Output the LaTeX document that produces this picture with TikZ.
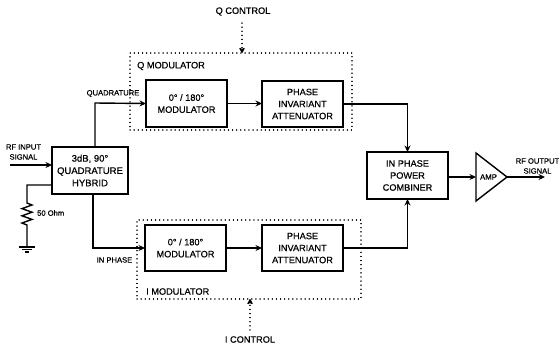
\documentclass[tikz,border=0pt]{standalone}
\usepackage{fontspec}
\setmainfont[FakeBold=0.6]{Liberation Sans}
\usetikzlibrary{arrows.meta,calc}
\tikzset{
  blockbox/.style={draw=black,line width=1.5pt,inner sep=0pt,outer sep=0pt,align=center,font=\fontsize{9.2}{12}\selectfont},
  modbox/.style={draw=black,line width=1.3pt,line cap=round,dash pattern=on 0.1pt off 4pt,inner sep=0pt,outer sep=0pt},
  wire/.style={line width=1.4pt,black},
  flow/.style={wire,-{Stealth[length=6.5pt,width=6pt]}},
  ctrl/.style={line width=1.3pt,line cap=round,dash pattern=on 0.1pt off 4pt,-{Stealth[length=7pt,width=7pt,round]}},
  biglabel/.style={inner sep=0pt,font=\fontsize{9.2}{11}\selectfont},
  smalllabel/.style={inner sep=0pt,align=center,font=\fontsize{7.6}{10}\selectfont},
}
\begin{document}
\begin{tikzpicture}[x=1pt,y=-1pt]
\useasboundingbox[fill=white] (0,0) rectangle (559,349);
% dotted modulator frames
\node[modbox,minimum width=222pt,minimum height=77pt] (qframe) at (241,91.5) {};
\node[modbox,minimum width=224pt,minimum height=79pt] (iframe) at (249,259.5) {};
% blocks
\node[blockbox,minimum width=76pt,minimum height=47pt,font=\fontsize{9.5}{12.3}\selectfont] (hyb) at (90,170.5) {3dB, 90°\\QUADRATURE\\HYBRID};
\node[blockbox,minimum width=81pt,minimum height=47pt] (qmod) at (186.5,103.5) {0° / 180°\\MODULATOR};
\node[blockbox,minimum width=81pt,minimum height=46pt] (qatt) at (302.5,104) {PHASE\\INVARIANT\\ATTENUATOR};
\node[blockbox,minimum width=81pt,minimum height=46pt] (imod) at (185.5,248) {0° / 180°\\MODULATOR};
\node[blockbox,minimum width=81pt,minimum height=46pt] (iatt) at (302.5,248) {PHASE\\INVARIANT\\ATTENUATOR};
\node[blockbox,minimum width=81pt,minimum height=47pt] (comb) at (407.5,175.5) {IN PHASE\\POWER\\COMBINER};
% amplifier
\coordinate (ampw) at (476,177);
\coordinate (ampn) at (476,153);
\coordinate (amps) at (476,201);
\coordinate (ampe) at (507,177);
\draw[line width=1.4pt,line join=miter] (ampn) -- (ampe) -- (amps) -- cycle;
\node[inner sep=0pt,font=\fontsize{7.8}{10}\selectfont] (amp) at (488.5,177) {AMP};
% free ends and corners
\coordinate (rfin) at (10,165);
\coordinate (rfout) at (545,177);
\coordinate (upx) at (95,103);
\coordinate (dnx) at (93,248);
\coordinate (loadtop) at (27,185);
\coordinate (r1) at (27,203);
\coordinate (r2) at (27,225);
\coordinate (gnd) at (27,247);
\coordinate (qc) at (242,23);
\coordinate (ic) at (250,330);
% main connectors
\draw[flow] (rfin) -- (rfin -| hyb.west);
\draw[flow] (upx |- hyb.north) -- (upx) -- (qmod.west);
\draw[flow] (dnx |- hyb.south) -- (dnx) -- (imod.west);
\draw[flow] (qmod.east) -- (qmod.east -| qatt.west);
\draw[flow] (imod.east) -- (iatt.west);
\draw[flow] (qatt.east) -| (comb.north);
\draw[flow] (iatt.east) -| (comb.south);
\draw[flow] (comb.east |- ampw) -- (ampw);
\draw[flow] (ampe) -- (rfout);
% load resistor and ground
\draw[wire,line join=miter] (loadtop -| hyb.west) -- (loadtop) -- (r1)
  -- ++(5,2) -- ++(-10,3.6) -- ++(10,3.6) -- ++(-10,3.6) -- ++(10,3.6) -- ++(-10,3.6) -- (r2) -- (gnd);
\draw[line width=1.6pt] ($(gnd)+(-8,0)$) -- ($(gnd)+(8,0)$);
\draw[line width=1.6pt] ($(gnd)+(-5,2.5)$) -- ($(gnd)+(5,2.5)$);
\draw[line width=1.4pt] ($(gnd)+(-2,5)$) -- ($(gnd)+(2,5)$);
% control inputs
\draw[ctrl] (qc) -- (qc |- qframe.north);
\draw[ctrl] (ic) -- (ic |- iframe.south);
% labels
\node[biglabel] (qctl) at (243,11.5) {Q CONTROL};
\node[biglabel] (ictl) at (250,339.5) {I CONTROL};
\node[biglabel,anchor=west] (qlab) at (137,66) {Q MODULATOR};
\node[biglabel,anchor=west] (ilab) at (146,291.5) {I MODULATOR};
\node[smalllabel] (qtxt) at (113,93.5) {QUADRATURE};
\node[smalllabel] (ptxt) at (114.5,260) {IN PHASE};
\node[smalllabel] (inlab) at (23.5,152) {RF INPUT\\SIGNAL};
\node[smalllabel] (outlab) at (537.5,166) {RF OUTPUT\\SIGNAL};
\node[smalllabel,anchor=west] (ohm) at (37,213) {50 Ohm};
\end{tikzpicture}
\end{document}
